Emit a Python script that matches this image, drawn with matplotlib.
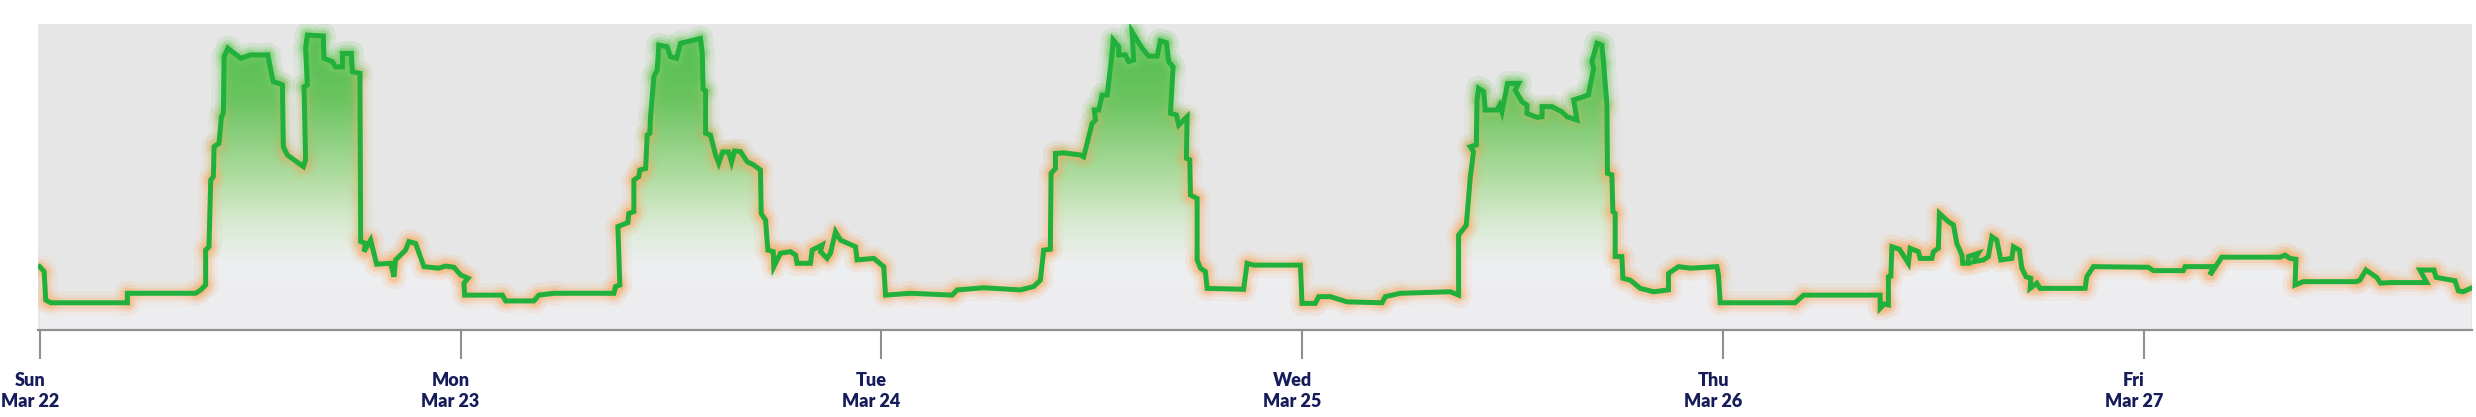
import numpy as np
import matplotlib.pyplot as plt
import matplotlib.transforms as mtransforms
from matplotlib.collections import LineCollection
from matplotlib.colors import LinearSegmentedColormap
from matplotlib.patches import Polygon

# hours since Sun Mar 22 00:00, relative load (0-100)
hours = [0.0, 0.25, 0.34, 0.63, 5.00, 5.00, 8.89, 9.18, 9.46, 9.46, 9.65, 9.75, 9.90, 9.94,
         10.22, 10.36, 10.47, 10.51, 10.73, 11.46, 12.03, 13.01, 13.17, 13.32, 13.64, 13.84,
         13.89, 14.12, 15.03, 15.16, 15.07, 15.26, 15.16, 15.26, 16.17, 16.21, 16.69, 16.87,
         17.26, 17.26, 17.77, 17.83, 18.26, 18.30, 18.58, 18.49, 18.87, 19.21, 20.01, 20.20,
         20.29, 20.86, 21.05, 21.43, 21.91, 22.76, 23.14, 23.62, 24.00, 24.42, 24.19, 24.23,
         26.38, 26.57, 28.18, 28.46, 29.32, 32.74, 32.84, 33.08, 32.97, 33.54, 33.59, 33.88,
         33.88, 34.16, 34.22, 34.55, 34.64, 34.79, 34.83, 35.02, 35.21, 35.30, 35.78, 35.97,
         36.31, 36.54, 37.68, 37.78, 37.83, 37.97, 37.97, 38.25, 38.54, 38.72, 38.94, 39.28,
         39.45, 39.62, 39.96, 40.34, 40.72, 41.10, 41.14, 41.39, 41.52, 41.83, 41.86, 42.24,
         42.81, 43.10, 43.19, 43.95, 44.05, 44.62, 44.52, 44.90, 45.09, 45.38, 45.66, 46.52,
         46.61, 47.56, 48.13, 48.23, 49.65, 52.03, 52.32, 53.83, 55.92, 56.68, 57.06, 57.25,
         57.63, 57.67, 57.92, 57.92, 58.39, 59.34, 59.53, 59.82, 60.01, 60.20, 60.14, 60.39,
         60.58, 60.87, 61.15, 61.21, 61.53, 61.53, 61.91, 62.10, 62.38, 62.29, 62.86, 63.24,
         63.72, 63.90, 64.25, 64.38, 64.63, 64.48, 64.82, 64.95, 65.43, 65.39, 65.58, 65.62,
         66.00, 66.00, 66.19, 66.47, 66.57, 68.65, 68.85, 69.22, 71.89, 71.98, 72.74, 72.93,
         73.60, 74.55, 76.54, 76.73, 77.59, 80.44, 80.91, 80.91, 81.20, 81.35, 81.58, 81.76,
         81.58, 81.92, 81.96, 82.05, 82.34, 82.43, 83.10, 83.25, 83.38, 83.70, 84.33, 84.14,
         84.52, 84.81, 84.81, 85.38, 85.67, 85.67, 86.23, 86.80, 87.09, 87.66, 87.47, 88.32,
         88.38, 88.61, 88.51, 88.80, 89.08, 89.18, 89.37, 89.40, 89.65, 89.71, 89.84, 89.84,
         90.22, 90.28, 90.70, 91.27, 92.03, 92.88, 92.88, 93.45, 94.12, 95.64, 95.73, 95.83,
         100.10, 100.58, 104.95, 104.95, 105.18, 105.42, 105.42, 105.56, 105.62, 106.05,
         106.19, 106.56, 106.66, 107.13, 107.23, 107.90, 107.99, 108.27, 108.33, 108.84,
         109.13, 109.32, 109.61, 109.66, 109.98, 109.98, 110.55, 110.27, 110.84, 111.12,
         111.32, 111.60, 111.83, 112.46, 112.55, 112.89, 113.03, 113.27, 113.54, 113.50,
         113.88, 114.07, 116.64, 116.73, 117.11, 120.24, 120.53, 122.24, 122.34, 123.95,
         123.76, 124.43, 127.75, 128.04, 128.32, 128.66, 128.61, 129.08, 132.12, 132.31,
         132.65, 133.26, 133.49, 134.02, 136.12, 135.73, 136.53, 136.65, 137.73, 137.92,
         138.20, 138.62]
load = [20.7, 19.1, 9.8, 8.9, 8.9, 12.0, 12.0, 13.1, 14.7, 26.1, 27.2, 49.0, 50.1, 59.9,
        61.0, 69.7, 70.8, 89.3, 92.1, 88.8, 89.9, 89.9, 85.0, 81.1, 80.6, 80.1,
        59.9, 57.2, 53.4, 55.6, 79.5, 80.1, 92.1, 96.4, 96.1, 88.8, 87.7, 86.0,
        86.0, 90.4, 90.4, 84.4, 83.9, 28.9, 28.3, 25.6, 29.4, 21.5, 21.8, 17.4,
        22.9, 26.1, 28.9, 28.3, 20.7, 20.2, 20.9, 20.5, 18.0, 16.9, 15.3, 11.4,
        11.4, 9.5, 9.5, 11.4, 12.0, 12.0, 14.2, 14.7, 33.8, 35.1, 38.1, 38.7,
        49.0, 50.1, 52.3, 52.8, 63.7, 64.3, 69.7, 82.8, 85.0, 93.1, 92.6, 89.3,
        88.8, 93.7, 95.3, 90.4, 78.7, 78.2, 64.3, 63.7, 57.2, 54.5, 58.2, 58.2,
        54.9, 58.5, 58.3, 55.0, 53.9, 52.3, 38.1, 35.9, 26.1, 25.6, 20.7, 25.1,
        25.6, 24.5, 21.8, 21.8, 26.1, 27.8, 25.6, 23.4, 25.1, 32.1, 29.4, 27.2,
        22.9, 23.4, 20.7, 11.4, 12.0, 11.4, 13.1, 13.8, 13.1, 14.2, 16.3, 26.1,
        26.4, 51.2, 52.8, 57.7, 57.9, 57.2, 56.6, 63.2, 67.5, 68.6, 71.9, 71.9,
        76.8, 76.8, 90.4, 94.8, 92.6, 89.9, 89.9, 87.7, 88.2, 97.5, 92.1, 89.5,
        89.5, 94.5, 93.9, 87.7, 86.0, 70.8, 70.3, 67.0, 69.7, 56.1, 55.6, 44.1,
        43.0, 22.9, 20.2, 19.1, 13.6, 13.3, 21.8, 21.2, 21.2, 8.7, 8.7, 10.9,
        10.9, 9.2, 8.9, 10.9, 12.0, 12.5, 11.4, 31.0, 33.2, 34.3, 50.1, 58.3,
        59.9, 60.5, 75.2, 79.0, 77.9, 71.9, 71.9, 73.5, 71.3, 80.6, 80.6, 78.4,
        74.6, 73.5, 70.8, 69.5, 69.7, 73.0, 73.0, 71.3, 69.7, 68.6, 75.2, 76.8,
        79.0, 85.5, 87.7, 93.7, 93.1, 87.2, 73.5, 51.2, 50.7, 38.7, 38.1, 24.0,
        24.0, 16.9, 16.3, 13.6, 12.5, 13.1, 18.5, 20.7, 20.2, 20.7, 18.0, 8.9,
        8.9, 11.4, 11.4, 7.1, 8.5, 8.2, 17.4, 17.6, 27.2, 26.4,
        25.1, 21.8, 26.7, 25.6, 23.4, 23.4, 25.6, 26.7, 38.1, 35.4,
        34.3, 28.3, 24.5, 21.8, 21.8, 24.0, 25.1, 22.3, 22.9, 24.0,
        30.5, 29.4, 22.9, 23.4, 27.2, 26.1, 20.2, 17.4, 16.9, 13.6,
        15.3, 13.6, 13.6, 17.4, 20.7, 20.5, 19.4, 19.4, 20.7, 20.7,
        18.0, 23.8, 23.8, 24.5, 23.4, 23.1, 14.7, 15.8, 15.8, 16.3,
        19.6, 17.2, 15.3, 15.5, 15.5, 19.6, 19.6, 17.2, 16.1, 12.8,
        12.5, 13.6]

tick_hours = [0, 24, 48, 72, 96, 120]
day_names = ['Sun', 'Mon', 'Tue', 'Wed', 'Thu', 'Fri']
day_dates = ['Mar 22', 'Mar 23', 'Mar 24', 'Mar 25', 'Mar 26', 'Mar 27']

W, H = 2476, 417
fig = plt.figure(figsize=(W / 100, H / 100), dpi=100)
ax = fig.add_axes([38 / W, 1 - 330 / H, (2472 - 38) / W, (330 - 24) / H])
ax.set_xlim(-0.1, 138.7)
ax.set_ylim(0, 100)
ax.set_facecolor('#e6e6e6')

# gradient fill under the curve (colour depends on height)
grad = LinearSegmentedColormap.from_list('g', [
    (0.00, (0.93, 0.93, 0.945)),
    (0.22, (0.93, 0.935, 0.94)),
    (0.36, (0.84, 0.915, 0.81)),
    (0.50, (0.69, 0.865, 0.63)),
    (0.75, (0.42, 0.77, 0.38)),
    (1.00, (0.30, 0.73, 0.30)),
])
img = np.linspace(0, 1, 256).reshape(-1, 1)
im = ax.imshow(img, cmap=grad, extent=[-0.1, 138.7, 0, 100], origin='lower',
               aspect='auto', zorder=1, interpolation='bilinear')
verts = [(hours[0], 0)] + list(zip(hours, load)) + [(hours[-1], 0)]
poly = Polygon(verts, closed=True, facecolor='none', edgecolor='none')
ax.add_patch(poly)
im.set_clip_path(poly)

# soft glow around the line
pts = np.column_stack([hours, load])
segs = np.stack([pts[:-1], pts[1:]], axis=1)
mid = (np.array(load[:-1]) + np.array(load[1:])) / 2
t = np.clip((mid - 50) / 30, 0, 1)[:, None]
orange = np.array([0.98, 0.70, 0.45])
green = np.array([0.45, 0.80, 0.40])
cols = orange * (1 - t) + green * t
for lw, a in [(18, 0.08), (12, 0.14), (8, 0.26)]:
    c = np.column_stack([cols, np.full(len(cols), a)])
    ax.add_collection(LineCollection(segs, colors=c, linewidths=lw,
                                     capstyle='round', joinstyle='round', zorder=2))

ax.plot(hours, load, color='#22b03c', lw=3.6, solid_joinstyle='miter', zorder=3)

for s in ['top', 'left', 'right']:
    ax.spines[s].set_visible(False)
ax.spines['bottom'].set_color('#8f8f8f')
ax.spines['bottom'].set_linewidth(1.6)
ax.set_yticks([])
ax.set_xticks(tick_hours)
ax.set_xticklabels([f'{d}\n{m}' for d, m in zip(day_names, day_dates)],
                   fontfamily=['Lato', 'DejaVu Sans'], fontweight='heavy', fontsize=13,
                   color='#161c5a', linespacing=1.32)
ax.tick_params(axis='x', length=21, width=1.5, color='#8f8f8f', pad=9)
shift = mtransforms.ScaledTranslation(-10 / 100, 0, fig.dpi_scale_trans)
for lab in ax.get_xticklabels():
    lab.set_transform(lab.get_transform() + shift)

fig.savefig('out.png', dpi=100, facecolor='white')
